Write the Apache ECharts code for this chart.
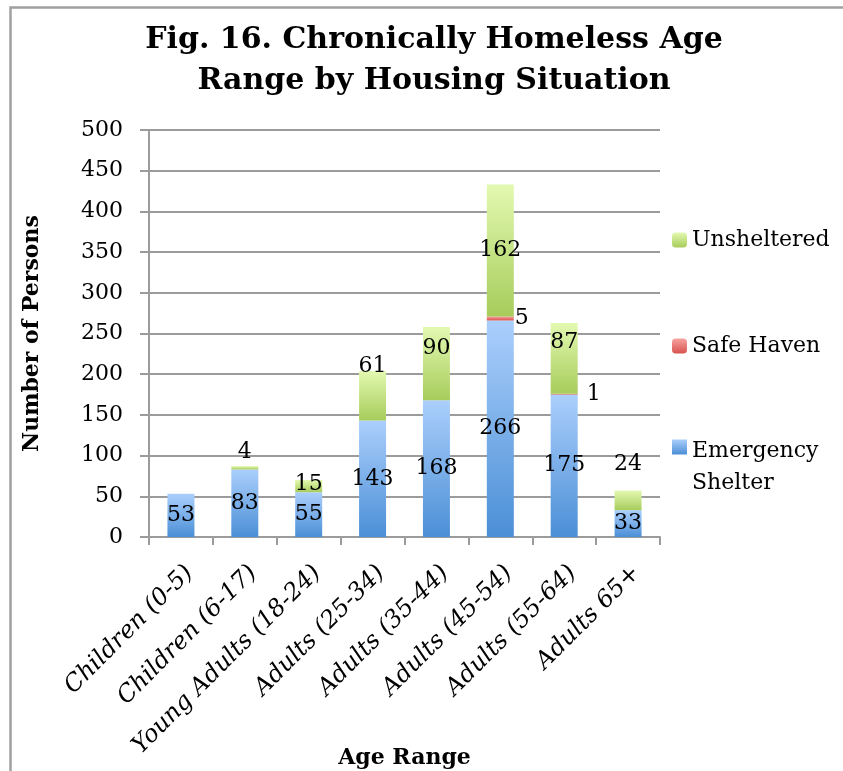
<!DOCTYPE html>
<html>
<head>
<meta charset="utf-8">
<script src="https://cdn.jsdelivr.net/npm/echarts@6/dist/echarts.min.js"></script>
<style>
  html, body { margin: 0; padding: 0; background: #ffffff; }
  #chart { width: 843px; height: 771px; }
</style>
</head>
<body>
<div id="chart"></div>
<script>
// Age ranges on the category axis
const categories = [
  'Children (0-5)', 'Children (6-17)', 'Young Adults (18-24)', 'Adults (25-34)',
  'Adults (35-44)', 'Adults (45-54)', 'Adults (55-64)', 'Adults 65+'
];

// Persons per housing situation, one value per age range
const emergencyShelter = [53, 83, 55, 143, 168, 266, 175, 33];
const safeHaven        = [0, 0, 0, 0, 0, 5, 1, 0];
const unsheltered      = [0, 4, 15, 61, 90, 162, 87, 24];

// Value axis ticks
const yMin = 0;
const yMax = 500;
const yStep = 50;

const serif = '"DejaVu Serif", "Liberation Serif", serif';
const gridGray = '#9b9b9b';

function vGrad(top, bottom, end) {
  return new echarts.graphic.LinearGradient(0, 0, 0, 1, [
    { offset: 0, color: top },
    { offset: end || 1, color: bottom },
    { offset: 1, color: bottom }
  ]);
}

const blueFill  = vGrad('#abcffc', '#4b8fd6');
const redFill   = vGrad('#f7a3a0', '#d8534e');
const greenFill = vGrad('#e3f9b1', '#a7cc5b');

// vertical nudges for the Unsheltered labels so they clear neighbouring text
const unshelteredLabelShift = { 1: -16, 2: -2, 3: -29, 4: -15, 6: -16, 7: -36 };
// Safe Haven labels sit beside the bar
const safeHavenLabelGap = { 5: 1, 6: 9 };

const labelBase = {
  show: true,
  color: '#000',
  fontFamily: serif,
  fontSize: 22,
  formatter: p => (p.value ? String(p.value) : '')
};

const esData = emergencyShelter.map(v => ({ value: v }));
const shData = safeHaven.map((v, i) => ({
  value: v,
  label: { position: 'right', distance: safeHavenLabelGap[i] || 4 }
}));
const unData = unsheltered.map((v, i) => ({
  value: v,
  label: { offset: [0, unshelteredLabelShift[i] || 0] }
}));

const chart = echarts.init(document.getElementById('chart'), null, { renderer: 'canvas' });

const legendText = { fontFamily: serif, fontSize: 22, color: '#000', lineHeight: 26 };

// the two-line legend entry keeps its swatch level with the first line:
// a tall icon box whose square sits at the top
const tallSwatch = 'path://M0,0h15v15h-15z M0,55h15';

chart.setOption({
  animation: false,
  backgroundColor: '#ffffff',
  title: {
    text: 'Fig. 16. Chronically Homeless Age\nRange by Housing Situation',
    left: 429,
    top: 15,
    textAlign: 'center',
    textStyle: {
      fontFamily: serif,
      fontWeight: 'bold',
      fontSize: 30,
      lineHeight: 41,
      color: '#000'
    }
  },
  graphic: [{
    type: 'rect',
    shape: { x: 10.5, y: 7.5, width: 900, height: 900 },
    style: { fill: 'none', stroke: '#a0a0a0', lineWidth: 2.5 },
    silent: true
  }],
  legend: [
    {
      data: ['Unsheltered'], orient: 'vertical', left: 672, top: 227, padding: 0,
      itemWidth: 15, itemHeight: 15, itemGap: 0, textStyle: legendText
    },
    {
      data: ['Safe Haven'], orient: 'vertical', left: 672, top: 333, padding: 0,
      itemWidth: 15, itemHeight: 15, itemGap: 0, textStyle: legendText
    },
    {
      data: [{
        name: 'Emergency Shelter',
        icon: tallSwatch,
        itemStyle: { color: vGrad('#abcffc', '#4b8fd6', 0.27) }
      }],
      orient: 'vertical', left: 672, top: 435, padding: 0,
      itemWidth: 15, itemHeight: 55, itemGap: 0,
      formatter: () => 'Emergency\nShelter',
      textStyle: Object.assign({}, legendText, { lineHeight: 32 })
    }
  ],
  grid: { left: 149, right: 183, top: 130, bottom: 234, containLabel: false, outerBoundsMode: 'none' },
  xAxis: {
    type: 'category',
    data: categories,
    name: 'Age Range',
    nameLocation: 'middle',
    nameGap: 210,
    nameMoveOverlap: false,
    nameTextStyle: { fontFamily: serif, fontWeight: 'bold', fontSize: 22, color: '#000' },
    axisLine: { lineStyle: { color: gridGray, width: 2 } },
    axisTick: { show: true, length: 8, lineStyle: { color: gridGray, width: 2 } },
    axisLabel: {
      rotate: 45,
      margin: 24,
      interval: 0,
      verticalAlign: 'top',
      color: '#000',
      fontFamily: serif,
      fontStyle: 'italic',
      fontSize: 24
    }
  },
  yAxis: {
    type: 'value',
    min: yMin,
    max: yMax,
    interval: yStep,
    name: 'Number of Persons',
    nameLocation: 'middle',
    nameGap: 106,
    nameMoveOverlap: false,
    nameTextStyle: { fontFamily: serif, fontWeight: 'bold', fontSize: 22, color: '#000' },
    axisLine: { show: true, lineStyle: { color: gridGray, width: 2 } },
    axisTick: { show: true, length: 9, lineStyle: { color: gridGray, width: 2 } },
    splitLine: { show: true, lineStyle: { color: gridGray, width: 2 } },
    axisLabel: { margin: 26, color: '#000', fontFamily: serif, fontSize: 22 }
  },
  series: [
    {
      name: 'Emergency Shelter', type: 'bar', stack: 'total', barWidth: 27,
      itemStyle: { color: blueFill },
      label: Object.assign({}, labelBase, { position: 'inside' }),
      data: esData
    },
    {
      name: 'Safe Haven', type: 'bar', stack: 'total', barWidth: 27,
      itemStyle: { color: redFill },
      label: Object.assign({}, labelBase, { position: 'right' }),
      data: shData
    },
    {
      name: 'Unsheltered', type: 'bar', stack: 'total', barWidth: 27,
      itemStyle: { color: greenFill },
      label: Object.assign({}, labelBase, { position: 'inside' }),
      data: unData
    }
  ]
});
</script>
</body>
</html>
